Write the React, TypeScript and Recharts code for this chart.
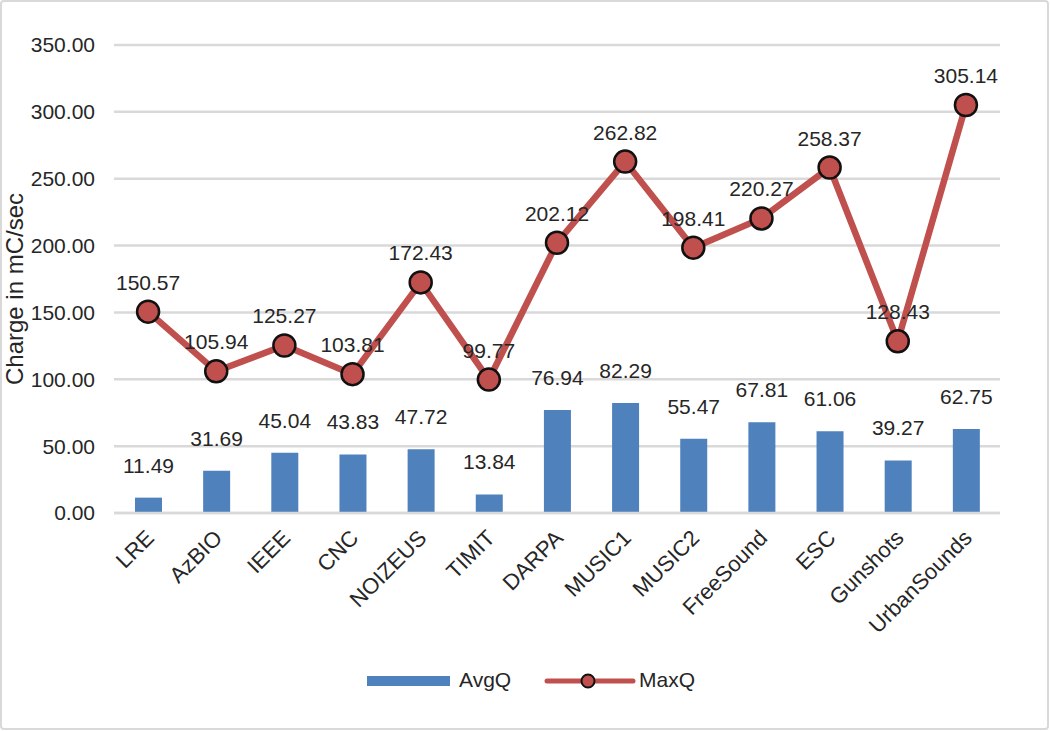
import React from 'react';
import { ComposedChart, Bar, Line, XAxis, YAxis, CartesianGrid, LabelList } from 'recharts';

const categories = ['LRE', 'AzBIO', 'IEEE', 'CNC', 'NOIZEUS', 'TIMIT', 'DARPA', 'MUSIC1', 'MUSIC2', 'FreeSound', 'ESC', 'Gunshots', 'UrbanSounds'];
const avgQ = [11.49, 31.69, 45.04, 43.83, 47.72, 13.84, 76.94, 82.29, 55.47, 67.81, 61.06, 39.27, 62.75];
const maxQ = [150.57, 105.94, 125.27, 103.81, 172.43, 99.77, 202.12, 262.82, 198.41, 220.27, 258.37, 128.43, 305.14];
const yTicks = [0, 50, 100, 150, 200, 250, 300, 350];

const data = categories.map((name, i) => ({ name, avg: avgQ[i], max: maxQ[i] }));

const FONT = '"Liberation Sans", Arial, sans-serif';
const TEXT = '#262626';
const BLUE = '#4f81bd';
const RED = '#c0504d';
const GRID = '#d9d9d9';
const FS = 21;

const XTick = (props: any) => {
    const { x, y, payload } = props;
    const tx = x + 2;
    const ty = y + 13;
    return (
        <text x={tx} y={ty} textAnchor="end" dominantBaseline="central" fontSize={22} fill={TEXT} fontFamily={FONT}
            transform={`rotate(-45, ${tx}, ${ty})`}>
            {payload.value}
        </text>
    );
};

const MaxDot = (props: any) => {
    const { cx, cy } = props;
    return <circle cx={cx} cy={cy} r={11} fill={RED} stroke="#111" strokeWidth={2.5} />;
};

export default function App() {
    return (
        <div style={{ position: 'absolute', left: 0, top: 0, width: 1050, height: 731, background: '#fff', fontFamily: FONT }}>
            <div style={{ position: 'absolute', left: 0, top: 0, width: 1045, height: 726, border: `2.5px solid ${GRID}`, borderRadius: 4 }} />
            <ComposedChart width={1050} height={731} data={data} margin={{ top: 45, right: 50, left: 14, bottom: 98 }}>
                <CartesianGrid vertical={false} stroke={GRID} strokeWidth={2.5} />
                <XAxis
                    dataKey="name"
                    height={120}
                    axisLine={{ stroke: GRID, strokeWidth: 2.5 }}
                    tickLine={false}
                    interval={0}
                    tick={<XTick />}
                />
                <YAxis
                    width={100}
                    domain={[0, 350]}
                    ticks={yTicks}
                    axisLine={false}
                    tickLine={false}
                    tickSize={0}
                    tickMargin={19}
                    tickFormatter={(v: number) => v.toFixed(2)}
                    tick={{ fontSize: FS, fill: TEXT, fontFamily: FONT }}
                    label={{
                        content: () => (
                            <text x={14} y={289} textAnchor="middle" dominantBaseline="central" fontSize={24} fill={TEXT}
                                fontFamily={FONT} transform="rotate(-90, 14, 289)">
                                Charge in mC/sec
                            </text>
                        ),
                    }}
                />
                <Bar dataKey="avg" fill={BLUE} barSize={27} isAnimationActive={false}>
                    <LabelList dataKey="avg" position="top" offset={25} formatter={(v: any) => Number(v).toFixed(2)}
                        style={{ fontSize: FS, fill: TEXT, fontFamily: FONT }} />
                </Bar>
                <Line dataKey="max" stroke={RED} strokeWidth={6.5} dot={<MaxDot />} activeDot={false} isAnimationActive={false}>
                    <LabelList dataKey="max" position="top" offset={22} formatter={(v: any) => Number(v).toFixed(2)}
                        style={{ fontSize: FS, fill: TEXT, fontFamily: FONT }} />
                </Line>
            </ComposedChart>
            <div style={{ position: 'absolute', top: 668, left: 0, width: 1050, height: 26 }}>
                <div style={{ position: 'absolute', left: 367, top: 8, width: 83, height: 10, background: BLUE }} />
                <div style={{ position: 'absolute', left: 459, top: 0, fontSize: FS, color: TEXT }}>AvgQ</div>
                <svg style={{ position: 'absolute', left: 540, top: 0 }} width={100} height={26}>
                    <line x1={7} y1={13} x2={93} y2={13} stroke={RED} strokeWidth={5} strokeLinecap="round" />
                    <circle cx={48} cy={13} r={6.5} fill={RED} stroke="#111" strokeWidth={2} />
                </svg>
                <div style={{ position: 'absolute', left: 639, top: 0, fontSize: FS, color: TEXT }}>MaxQ</div>
            </div>
        </div>
    );
}
